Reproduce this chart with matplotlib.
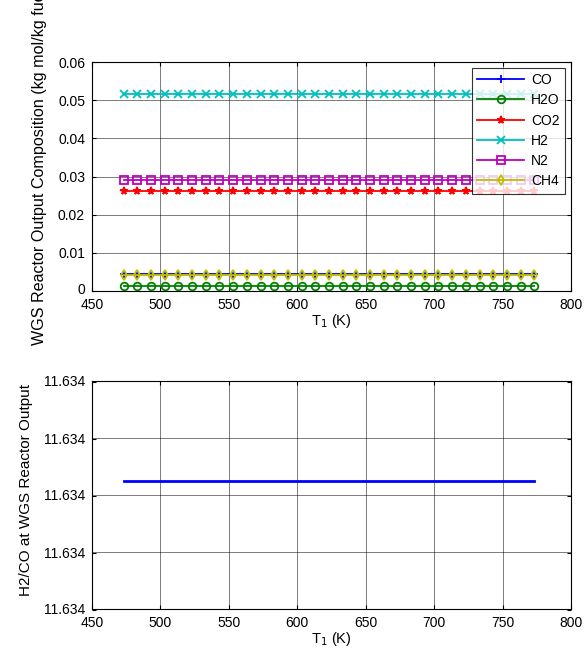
import numpy as np
import matplotlib
matplotlib.use("Agg")
import matplotlib.pyplot as plt
import matplotlib.transforms as mtransforms
from matplotlib.ticker import FormatStrFormatter

plt.rcParams['font.family'] = ['Liberation Sans', 'DejaVu Sans']

T1 = np.arange(473.15, 773.16, 10.0)
n = len(T1)
species = ["CO", "H2O", "CO2", "H2", "N2", "CH4"]
values = [0.004436, 0.00135, 0.0262, 0.0516, 0.0291, 0.0043]
markers = ['+', 'o', '*', 'x', 's', 'd']
colors = [(0, 0, 1), (0, 0.5, 0), (1, 0, 0), (0, 0.75, 0.75), (0.75, 0, 0.75), (0.75, 0.75, 0)]
ratio_value = 11.634

fig = plt.figure(figsize=(5.88, 6.54), dpi=100)
ax1 = fig.add_axes([92/588, 1-291/654, 479/588, 229/654])
ax2 = fig.add_axes([92/588, 1-609/654, 479/588, 228/654])

for name, v, m, c in zip(species, values, markers, colors):
    ax1.plot(T1, np.full(n, v), marker=m, color=c, lw=1.3, ms=5.5,
             mfc='none', mew=1.3, label=name)
ax1.set_xlim(450, 800)
ax1.set_ylim(0, 0.06)
ax1.set_yticks([0, 0.01, 0.02, 0.03, 0.04, 0.05, 0.06])
ax1.set_yticklabels(['0', '0.01', '0.02', '0.03', '0.04', '0.05', '0.06'])
ax1.set_xlabel('T$_1$ (K)', fontsize=10.5, labelpad=0)
ax1.set_ylabel('WGS Reactor Output Composition (kg mol/kg fuel)', fontsize=11.6)
ax1.yaxis.set_label_coords((47-92)/479, 0.555)
leg = ax1.legend(loc='upper right', fontsize=10, frameon=True, fancybox=False,
                 edgecolor='black', handlelength=3.4, borderaxespad=0.4,
                 labelspacing=0.45, borderpad=0.4, handletextpad=0.5)
leg.get_frame().set_linewidth(0.8)

d = 4e-13
ylo = ratio_value - 0.566 * d
yhi = ylo + d
ax2.plot(T1, np.full(n, ratio_value), color=(0, 0, 1), lw=2)
ax2.set_xlim(450, 800)
ax2.set_ylim(ylo, yhi)
ax2.set_yticks(np.linspace(ylo, yhi, 5))
ax2.yaxis.set_major_formatter(FormatStrFormatter('%.3f'))
ax2.yaxis.get_offset_text().set_visible(False)
ax2.set_xlabel('T$_1$ (K)', fontsize=10.5, labelpad=0)
ax2.set_ylabel('H2/CO at WGS Reactor Output', fontsize=11)
ax2.yaxis.set_label_coords((33-92)/479, 0.522)

for ax in (ax1, ax2):
    ax.grid(True, color='black', lw=0.6, alpha=0.6)
    ax.tick_params(direction='in', top=True, right=True, labelsize=10, length=3)
    ax.tick_params(axis='y', pad=5)
    ax.tick_params(axis='x', pad=5)
    ax.set_xticks([450, 500, 550, 600, 650, 700, 750, 800])
    for s in ax.spines.values():
        s.set_linewidth(0.8)

# nudge the "0" tick label of the top panel up slightly, as in the reference
lbl = ax1.get_yticklabels()[0]
lbl.set_transform(lbl.get_transform() + mtransforms.ScaledTranslation(0, 2/100, fig.dpi_scale_trans))

fig.savefig('out.png', dpi=100)
